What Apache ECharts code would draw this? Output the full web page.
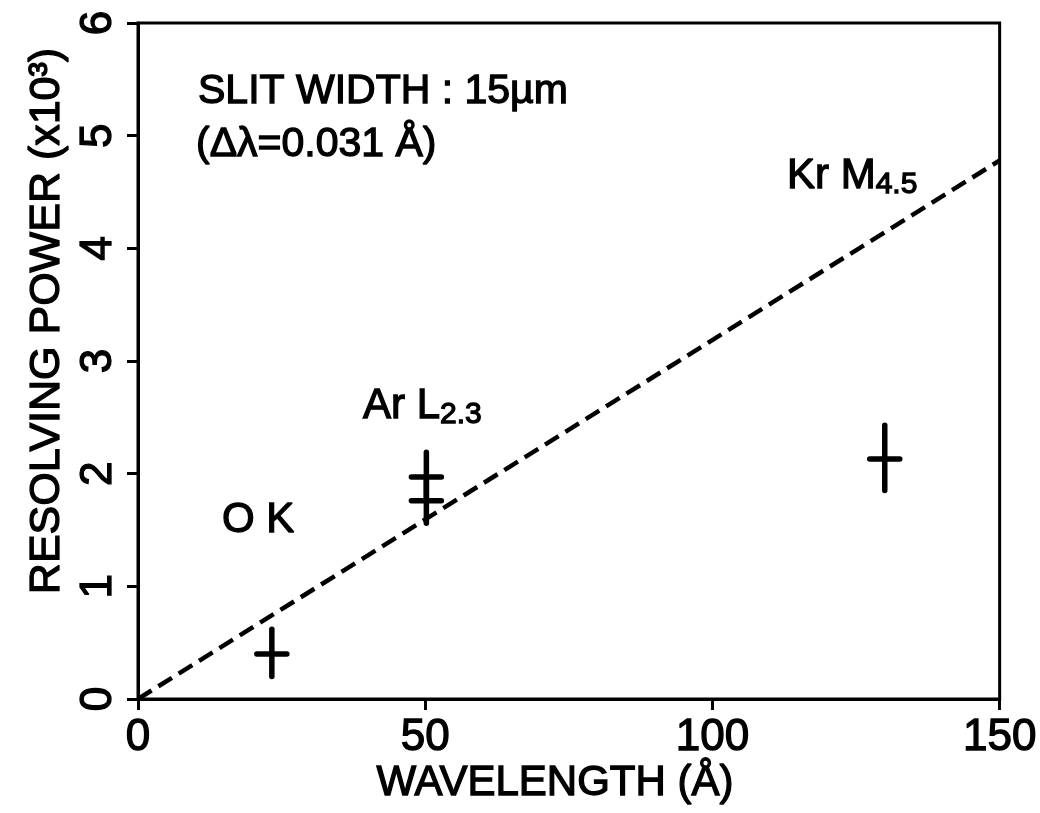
<!DOCTYPE html>
<html>
<head>
<meta charset="utf-8">
<script src="https://cdn.jsdelivr.net/npm/echarts@6/dist/echarts.min.js"></script>
<style>
  html, body { margin: 0; padding: 0; background: #fff; }
  #chart { width: 1040px; height: 813px; }
</style>
</head>
<body>
<div id="chart"></div>
<script>
// measured points (wavelength in Å, resolving power in 10^3)
const wavelength = [23.3, 50.2, 50.2, 130];
const power = [0.40, 1.97, 1.76, 2.13];
const powerLow = [0.20, 1.76, 1.56, 1.85];
const powerHigh = [0.62, 2.19, 1.97, 2.43];

// theoretical line (dashed)
const lineX = [0, 150];
const lineY = [0, 4.78];

const FONT = '"Liberation Sans", Arial, sans-serif';
const INK = '#000';
// old plots use heavy lettering, thicken glyphs a bit
const BOLDEN = { stroke: INK, lineWidth: 1.3 };

const chart = echarts.init(document.getElementById('chart'));

const crossData = wavelength.map((x, i) => [x, power[i], powerLow[i], powerHigh[i]]);

// error cross: vertical bar + short horizontal stroke
function renderCross(params, api) {
  const x = api.value(0);
  const c = api.coord([x, api.value(1)]);
  const lo = api.coord([x, api.value(2)]);
  const hi = api.coord([x, api.value(3)]);
  const st = { stroke: INK, lineWidth: 5.5, lineCap: 'round' };
  return {
    type: 'group',
    children: [
      { type: 'line', shape: { x1: lo[0], y1: lo[1], x2: hi[0], y2: hi[1] }, style: st },
      { type: 'line', shape: { x1: c[0] - 15, y1: c[1], x2: c[0] + 15, y2: c[1] }, style: st }
    ]
  };
}

const axisCommon = {
  axisLine: { show: true, onZero: false, lineStyle: { color: INK, width: 3 } },
  axisTick: { show: true, inside: false, length: 11, lineStyle: { color: INK, width: 3 } },
  splitLine: { show: false },
  axisLabel: {
    color: INK, fontFamily: FONT, fontSize: 44,
    textBorderColor: INK, textBorderWidth: 1.3
  }
};

const subStyle = { fontSize: 30, fontFamily: FONT, color: INK, lineHeight: 46, padding: [18, 0, 0, 0] };
const mainStyle = { fontSize: 42, fontFamily: FONT, color: INK, lineHeight: 46 };

const option = {
  backgroundColor: '#fff',
  animation: false,
  grid: {
    left: 138, right: 37, top: 23, bottom: 114,
    show: true, borderColor: INK, borderWidth: 3
  },
  xAxis: {
    type: 'value',
    min: 0, max: 150, interval: 50,
    ...axisCommon,
    axisLabel: { ...axisCommon.axisLabel, margin: 17 }
  },
  yAxis: {
    type: 'value',
    min: 0, max: 6, interval: 1,
    ...axisCommon,
    axisLabel: { ...axisCommon.axisLabel, rotate: 90, margin: 17 }
  },
  graphic: [
    {
      type: 'text', x: 47, y: 321, rotation: Math.PI / 2,
      style: {
        text: 'RESOLVING POWER (x10³)', fill: INK, ...BOLDEN,
        font: '43px ' + FONT, align: 'center', verticalAlign: 'middle'
      }
    },
    {
      type: 'text', x: 555, y: 783,
      style: {
        text: 'WAVELENGTH (Å)', fill: INK, ...BOLDEN,
        font: '42px ' + FONT, align: 'center', verticalAlign: 'middle'
      }
    },
    {
      type: 'text', x: 198, y: 92,
      style: {
        text: 'SLIT WIDTH : 15µm', fill: INK, ...BOLDEN,
        font: '41px ' + FONT, align: 'left', verticalAlign: 'middle'
      }
    },
    {
      type: 'text', x: 196, y: 145,
      style: {
        text: '(Δλ=0.031 Å)', fill: INK, ...BOLDEN,
        font: '41px ' + FONT, align: 'left', verticalAlign: 'middle'
      }
    },
    {
      type: 'text', x: 787, y: 176,
      style: {
        text: '{a|Kr M}{s|4.5}', fill: INK, ...BOLDEN, align: 'left', verticalAlign: 'middle',
        rich: { a: mainStyle, s: subStyle }
      }
    },
    {
      type: 'text', x: 363, y: 406,
      style: {
        text: '{a|Ar L}{s|2.3}', fill: INK, ...BOLDEN, align: 'left', verticalAlign: 'middle',
        rich: { a: mainStyle, s: subStyle }
      }
    },
    {
      type: 'text', x: 222, y: 520,
      style: {
        text: 'O K', fill: INK, ...BOLDEN,
        font: '42px ' + FONT, align: 'left', verticalAlign: 'middle'
      }
    }
  ],
  series: [
    {
      name: 'theory',
      type: 'line',
      data: lineX.map((x, i) => [x, lineY[i]]),
      symbol: 'none',
      lineStyle: { color: INK, width: 4.5, type: [16, 8] },
      silent: true
    },
    {
      name: 'measured',
      type: 'custom',
      data: crossData,
      renderItem: renderCross,
      clip: false
    }
  ]
};

chart.setOption(option);
</script>
</body>
</html>
